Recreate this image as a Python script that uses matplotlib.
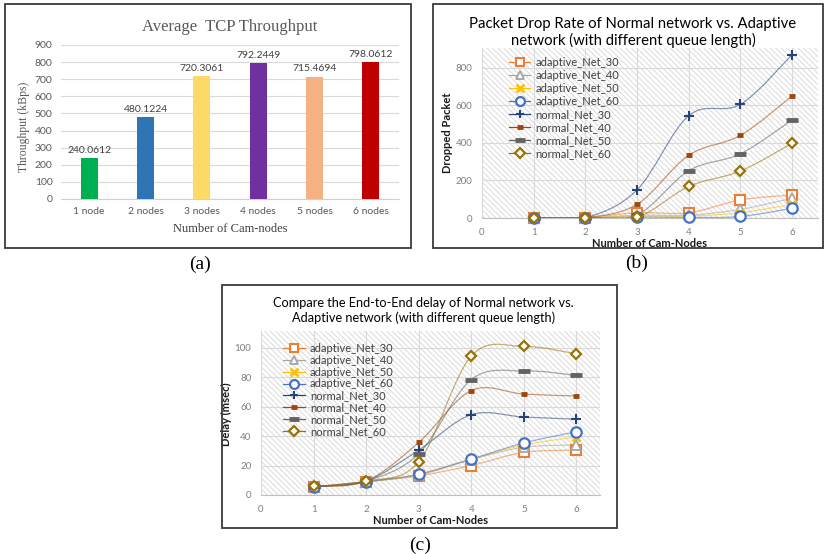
import numpy as np
import matplotlib
matplotlib.use("Agg")
import matplotlib.pyplot as plt
from matplotlib.path import Path
from matplotlib.patches import PathPatch, Rectangle
from matplotlib.lines import Line2D

# ---------------- data ----------------
bar_categories = ["1 node", "2 nodes", "3 nodes", "4 nodes", "5 nodes", "6 nodes"]
throughput = [240.0612, 480.1224, 720.3061, 792.2449, 715.4694, 798.0612]
bar_colors = ["#00B050", "#2E75B6", "#FFD966", "#7030A0", "#F4B183", "#C00000"]

nodes = [1, 2, 3, 4, 5, 6]
series_names = ["adaptive_Net_30", "adaptive_Net_40", "adaptive_Net_50", "adaptive_Net_60",
                "normal_Net_30", "normal_Net_40", "normal_Net_50", "normal_Net_60"]

drop_adaptive_30 = [2, 2, 28, 28, 96, 123]
drop_adaptive_40 = [1, 1, 15, 15, 46, 105]
drop_adaptive_50 = [1, 1, 10, 10, 28, 73]
drop_adaptive_60 = [0, 0, 5, 3, 8, 52]
drop_normal_30 = [1, 2, 150, 545, 605, 870]
drop_normal_40 = [1, 2, 73, 334, 440, 650]
drop_normal_50 = [1, 2, 16, 252, 342, 522]
drop_normal_60 = [1, 2, 4, 168, 250, 398]

delay_adaptive_30 = [5.5, 9, 13, 20, 29, 30.5]
delay_adaptive_40 = [5.5, 9, 13.5, 24, 32.5, 34]
delay_adaptive_50 = [5.5, 9, 14, 24.5, 34, 39.5]
delay_adaptive_60 = [5.5, 9, 14.2, 24.4, 35.4, 43]
delay_normal_30 = [5.8, 9.5, 30.5, 54.6, 53, 51.5]
delay_normal_40 = [5.8, 9.5, 35.7, 71, 68.6, 67.3]
delay_normal_50 = [5.8, 9.5, 28, 78.5, 84.4, 81.3]
delay_normal_60 = [5.8, 9.5, 22.6, 94.4, 101, 96]

drop_series = [drop_adaptive_30, drop_adaptive_40, drop_adaptive_50, drop_adaptive_60,
               drop_normal_30, drop_normal_40, drop_normal_50, drop_normal_60]
delay_series = [delay_adaptive_30, delay_adaptive_40, delay_adaptive_50, delay_adaptive_60,
                delay_normal_30, delay_normal_40, delay_normal_50, delay_normal_60]

# ---------------- styles ----------------
styles = [
    dict(color="#ED7D31", marker="s", ms=7, mew=1.5, mfc="white"),
    dict(color="#A5A5A5", marker="^", ms=7, mew=1.3, mfc="white"),
    dict(color="#FFC000", marker="x", ms=6, mew=2.0, mfc="white"),
    dict(color="#4472C4", marker="o", ms=7.5, mew=1.6, mfc="white"),
    dict(color="#264478", marker="+", ms=7.5, mew=1.5, mfc="white"),
    dict(color="#9E480E", marker="_", ms=5, mew=3.5, mfc="white"),
    dict(color="#636363", marker="_", ms=8.5, mew=3.5, mfc="white"),
    dict(color="#997300", marker="D", ms=5.5, mew=1.6, mfc="white"),
]

SANS = ["Lato", "DejaVu Sans"]
SERIF = ["Liberation Serif", "DejaVu Serif"]
plt.rcParams["font.family"] = SANS
plt.rcParams["hatch.color"] = "#d6d6d6"
plt.rcParams["hatch.linewidth"] = 0.6

W, H = 824, 554
fig = plt.figure(figsize=(W / 100, H / 100), dpi=100)


def fr(x0, y0, x1, y1):
    """pixel box (top-left origin) -> figure fraction rect"""
    return [x0 / W, 1 - y1 / H, (x1 - x0) / W, (y1 - y0) / H]


def box(x0, y0, x1, y1):
    fig.patches.append(Rectangle((x0 / W, 1 - y1 / H), (x1 - x0) / W, (y1 - y0) / H,
                                 transform=fig.transFigure, fill=False,
                                 edgecolor="#3a3a3a", linewidth=1.3))


def smooth_path(x, y):
    pts = np.column_stack([x, y]).astype(float)
    n = len(pts)
    verts = [pts[0]]
    codes = [Path.MOVETO]
    for i in range(n - 1):
        p0 = pts[i - 1] if i > 0 else pts[i]
        p1 = pts[i]
        p2 = pts[i + 1]
        p3 = pts[i + 2] if i + 2 < n else pts[i + 1]
        c1 = p1 + (p2 - p0) / 6.0
        c2 = p2 - (p3 - p1) / 6.0
        verts += [c1, c2, p2]
        codes += [Path.CURVE4] * 3
    return Path(verts, codes)


# ---------------- (a) bar chart ----------------
box(5, 4, 411, 248)
axa = fig.add_axes(fr(61, 45, 399, 199))
xa = np.arange(len(bar_categories))
axa.bar(xa, throughput, width=0.3, color=bar_colors, zorder=3)
for xi, v in zip(xa, throughput):
    axa.text(xi, v + 18, f"{v:.4f}", ha="center", va="bottom", fontsize=7.5, color="#404040")
axa.set_xlim(-0.5, 5.5)
axa.set_ylim(0, 900)
axa.set_yticks(range(0, 901, 100))
axa.set_xticks(xa)
axa.set_xticklabels(bar_categories)
axa.tick_params(length=0, labelsize=7.5, labelcolor="#595959", pad=6)
axa.yaxis.grid(True, color="#d9d9d9", lw=0.8, zorder=0)
for s in ["top", "right", "left"]:
    axa.spines[s].set_visible(False)
axa.spines["bottom"].set_color("#d0d0d0")
axa.set_title("Average  TCP Throughput", fontsize=12, color="#595959", family=SERIF, pad=10)
axa.set_ylabel("Throughput (kBps)", fontsize=8.5, color="#595959", family=SERIF)
axa.yaxis.set_label_coords(-0.092, 0.47)
axa.set_xlabel("Number of Cam-nodes", fontsize=9, color="#404040", family=SERIF, labelpad=5)


def line_panel(rect, data, ylim, yticks, xlim, title, tsize, tpos, ylabel, ylab_xy,
               legend_xy, lspace):
    ax = fig.add_axes(rect)
    ax.set_xlim(*xlim)
    ax.set_ylim(*ylim)
    ax.patch.set_facecolor("white")
    ax.patch.set_hatch("\\\\\\\\\\\\")
    ax.patch.set_edgecolor("#d6d6d6")
    ax.patch.set_linewidth(0)
    ax.set_yticks(yticks)
    ax.set_xticks(range(0, 7))
    ax.grid(True, color="#d9d9d9", lw=0.8, zorder=0)
    for s in ["top", "right", "left"]:
        ax.spines[s].set_visible(False)
    ax.spines["bottom"].set_color("#bfbfbf")
    ax.tick_params(length=0, labelsize=7, labelcolor="#7f7f7f", pad=7)
    handles = []
    for vals, st, name in zip(data, styles, series_names):
        pp = PathPatch(smooth_path(nodes, vals), fill=False, edgecolor=st["color"],
                       alpha=0.55, lw=0.9, zorder=3)
        ax.add_patch(pp)
        ax.plot(nodes, vals, ls="none", marker=st["marker"], ms=st["ms"], mew=st["mew"],
                mec=st["color"], mfc=st["mfc"], zorder=4, clip_on=False)
        handles.append(Line2D([], [], color=st["color"], lw=0.9,
                              marker=st["marker"], ms=st["ms"] * 0.85, mew=st["mew"],
                              mec=st["color"], mfc=st["mfc"]))
    ax.legend(handles, series_names, loc="upper left", bbox_to_anchor=legend_xy,
              frameon=False, fontsize=8, handlelength=1.9, handletextpad=0.5,
              labelspacing=lspace, borderaxespad=0, labelcolor="#404040")
    fig.text(tpos[0] / W, 1 - tpos[1] / H, title, ha="center", va="center",
             multialignment="center", fontsize=tsize, color="black", linespacing=1.15)
    ax.set_ylabel(ylabel, fontsize=8, fontweight="bold", color="#1a1a1a")
    ax.yaxis.set_label_coords(*ylab_xy)
    ax.set_xlabel("Number of Cam-Nodes", fontsize=8, fontweight="bold", color="#1a1a1a", labelpad=1)
    return ax


# ---------------- (b) ----------------
box(433, 4, 823, 248)
line_panel(fr(482, 48, 818, 218), drop_series, (0, 905), [0, 200, 400, 600, 800], (0, 6.5),
           "Packet Drop Rate of Normal network vs. Adaptive\nnetwork (with different queue length)",
           10.7, (633, 32.5), "Dropped Packet", (-0.086, 0.5), (0.067, 0.975), 0.18)

# ---------------- (c) ----------------
box(222, 285, 617, 528)
line_panel(fr(261, 331, 600, 495), delay_series, (0, 111.5), [0, 20, 40, 60, 80, 100], (0, 6.45),
           "Compare the End-to-End delay of Normal network vs.\nAdaptive network (with different queue length)",
           9.2, (423.5, 310.5), "Delay (msec)", (-0.086, 0.49), (0.053, 0.955), 0.08)

# panel labels
fig.text(200 / W, 1 - 264 / H, "(a)", ha="center", va="center", fontsize=14, family=SERIF)
fig.text(637 / W, 1 - 263 / H, "(b)", ha="center", va="center", fontsize=14, family=SERIF)
fig.text(420 / W, 1 - 545 / H, "(c)", ha="center", va="center", fontsize=14, family=SERIF)

fig.savefig("out.png", dpi=100)
